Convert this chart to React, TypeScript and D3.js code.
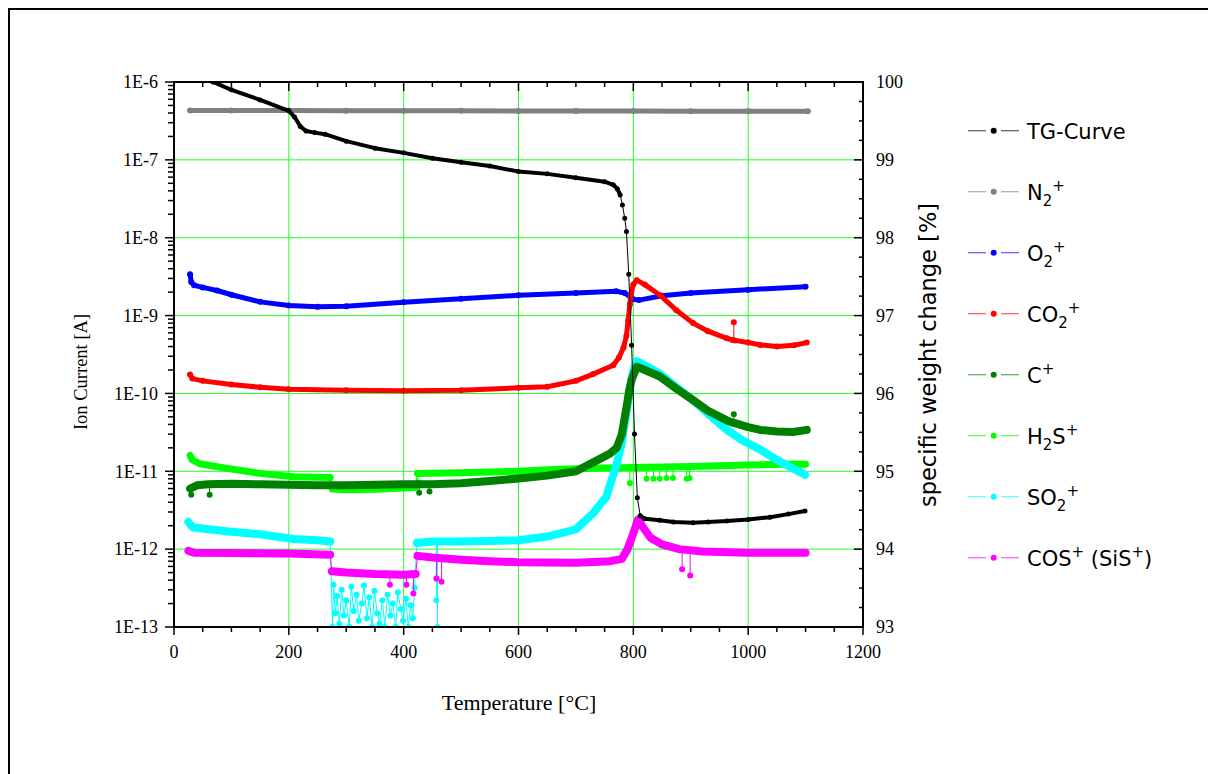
import React from 'react';
import * as d3 from 'd3';

type P = [number, number];
type S = [number, number, number]; // T, base, tip

// temperature [°C] vs specific weight change [%]
const tgCurve: P[] = [
  [28, 100.35], [50, 100.15], [68, 100], [100, 99.9], [150, 99.77], [200, 99.63], [210, 99.55],
  [220, 99.43], [230, 99.37], [245, 99.35], [263, 99.33], [300, 99.24], [350, 99.15], [400, 99.09],
  [450, 99.02], [500, 98.97], [550, 98.92], [600, 98.85], [650, 98.82], [700, 98.77], [750, 98.72],
  [765, 98.68], [772, 98.63], [777, 98.55], [781, 98.42], [785, 98.25], [788, 98.08], [792, 97.53],
  [797, 96.62], [802, 95.48], [807, 94.66], [812, 94.43], [820, 94.39], [846, 94.37], [870, 94.35],
  [904, 94.34], [930, 94.35], [963, 94.36], [1000, 94.38], [1038, 94.41], [1070, 94.45], [1099, 94.49],
];

// ion currents [A]
const n2: P[] = [
  [28, 4.3e-7], [100, 4.3e-7], [200, 4.3e-7], [300, 4.28e-7], [400, 4.28e-7], [500, 4.27e-7],
  [600, 4.25e-7], [700, 4.25e-7], [800, 4.24e-7], [900, 4.2e-7], [1000, 4.2e-7], [1104, 4.22e-7],
];

const o2: P[] = [
  [28, 3.4e-9], [30, 2.7e-9], [35, 2.45e-9], [50, 2.3e-9], [75, 2.1e-9], [100, 1.85e-9], [150, 1.5e-9],
  [200, 1.35e-9], [250, 1.3e-9], [300, 1.32e-9], [400, 1.48e-9], [500, 1.65e-9], [600, 1.82e-9],
  [700, 1.95e-9], [770, 2.05e-9], [785, 1.95e-9], [800, 1.62e-9], [810, 1.58e-9], [850, 1.8e-9],
  [900, 1.95e-9], [1000, 2.15e-9], [1100, 2.35e-9],
];

const co2: P[] = [
  [28, 1.75e-10], [32, 1.55e-10], [50, 1.45e-10], [100, 1.3e-10], [150, 1.2e-10], [200, 1.13e-10],
  [300, 1.1e-10], [400, 1.08e-10], [500, 1.1e-10], [600, 1.18e-10], [650, 1.22e-10], [700, 1.45e-10],
  [730, 1.77e-10], [765, 2.3e-10], [775, 2.9e-10], [783, 3.9e-10], [788, 5.5e-10], [791, 8.7e-10],
  [794, 1.4e-9], [796, 1.9e-9], [800, 2.5e-9], [806, 2.85e-9], [820, 2.5e-9], [846, 1.84e-9],
  [875, 1.17e-9], [904, 8.0e-10], [930, 6.3e-10], [963, 5.1e-10], [973, 4.85e-10], [977, 4.8e-10],
  [1000, 4.5e-10], [1021, 4.2e-10], [1050, 4.0e-10], [1080, 4.15e-10], [1102, 4.5e-10],
];
const co2Spikes: S[] = [[975, 4.85e-10, 8.2e-10]];

const cPlus: P[] = [
  [28, 6.0e-12], [40, 6.6e-12], [60, 6.8e-12], [100, 6.9e-12], [150, 6.8e-12], [200, 6.7e-12],
  [250, 6.6e-12], [300, 6.6e-12], [350, 6.7e-12], [400, 6.8e-12], [450, 6.8e-12], [500, 7.0e-12],
  [550, 7.5e-12], [600, 8.1e-12], [650, 8.8e-12], [700, 1.0e-11], [730, 1.3e-11], [760, 1.7e-11],
  [771, 2.0e-11], [780, 3.0e-11], [788, 6.6e-11], [793, 1.1e-10], [797, 1.5e-10], [806, 2.2e-10],
  [820, 2.0e-10], [846, 1.65e-10], [875, 1.15e-10], [904, 8.2e-11], [930, 6.0e-11], [963, 4.5e-11],
  [973, 4.2e-11], [977, 4.15e-11], [1000, 3.7e-11], [1021, 3.4e-11], [1050, 3.25e-11],
  [1078, 3.2e-11], [1102, 3.4e-11],
];
const cSpikes: S[] = [
  [975, 4.2e-11, 5.4e-11], [30, 6.2e-12, 5.0e-12], [62, 6.8e-12, 5.0e-12],
  [427, 6.8e-12, 5.3e-12], [445, 6.8e-12, 5.5e-12],
];

const h2s: P[] = [
  [28, 1.6e-11], [32, 1.4e-11], [45, 1.25e-11], [92, 1.09e-11], [150, 9.4e-12], [208, 8.5e-12],
  [272, 8.3e-12], [276, 5.9e-12], [300, 5.8e-12], [350, 5.9e-12], [400, 6.1e-12], [420, 6.2e-12],
  [424, 9.4e-12], [500, 9.6e-12], [600, 1.0e-11], [672, 1.06e-11], [750, 1.1e-11], [800, 1.12e-11],
  [900, 1.15e-11], [1000, 1.2e-11], [1078, 1.24e-11], [1100, 1.23e-11],
];
const h2sSpikes: S[] = [
  [794, 1.1e-11, 7.0e-12], [823, 1.12e-11, 8.0e-12], [835, 1.12e-11, 8.0e-12], [846, 1.12e-11, 8.0e-12],
  [858, 1.12e-11, 8.2e-12], [869, 1.13e-11, 8.2e-12], [893, 1.15e-11, 8.0e-12], [898, 1.15e-11, 8.2e-12],
  [425, 9.4e-12, 7.2e-12],
];

const so2: P[] = [
  [25, 2.25e-12], [30, 2.0e-12], [34, 1.9e-12], [60, 1.8e-12], [92, 1.7e-12], [150, 1.55e-12],
  [208, 1.35e-12], [250, 1.3e-12], [272, 1.25e-12],
  [276, 1.0e-13], [278, 3.5e-13], [281, 1.5e-13], [284, 2.5e-13], [288, 1.1e-13], [292, 3.0e-13],
  [296, 1.4e-13], [300, 2.2e-13], [305, 1.0e-13], [309, 3.3e-13], [313, 1.6e-13], [318, 2.6e-13],
  [322, 1.2e-13], [327, 2.0e-13], [331, 3.4e-13], [336, 1.3e-13], [340, 2.4e-13], [345, 1.0e-13],
  [349, 2.9e-13], [354, 1.5e-13], [358, 1.1e-13], [363, 2.2e-13], [367, 1.0e-13], [372, 2.6e-13],
  [377, 1.4e-13], [381, 2.0e-13], [386, 1.0e-13], [390, 2.8e-13], [395, 1.7e-13], [399, 1.2e-13],
  [404, 2.3e-13], [408, 1.0e-13], [412, 1.9e-13], [416, 1.3e-13], [419, 3.2e-13],
  [423, 1.2e-12], [450, 1.25e-12], [500, 1.25e-12], [600, 1.3e-12], [650, 1.45e-12], [700, 1.8e-12],
  [730, 2.9e-12], [753, 4.7e-12], [771, 1.24e-11], [780, 2.3e-11], [783, 3.4e-11], [790, 7e-11],
  [794, 1.2e-10], [800, 2.0e-10], [806, 2.6e-10], [820, 2.3e-10], [846, 1.8e-10], [875, 1.2e-10],
  [904, 8.2e-11], [930, 5.5e-11], [963, 3.4e-11], [990, 2.5e-11], [1021, 1.9e-11], [1050, 1.4e-11],
  [1078, 1.09e-11], [1099, 9.0e-12],
];
const so2Spikes: S[] = [[457, 1.25e-12, 2.2e-13], [459, 1.25e-12, 1.0e-13]];

const cos: P[] = [
  [25, 9.5e-13], [35, 9.0e-13], [100, 8.9e-13], [200, 8.8e-13], [272, 8.5e-13], [275, 5.2e-13],
  [300, 5.0e-13], [350, 4.8e-13], [400, 4.7e-13], [421, 4.8e-13], [424, 8.2e-13], [450, 7.8e-13],
  [500, 7.3e-13], [550, 7.0e-13], [600, 6.8e-13], [700, 6.7e-13], [760, 7.0e-13], [780, 7.5e-13],
  [790, 1.0e-12], [800, 1.6e-12], [808, 2.4e-12], [815, 2.0e-12], [830, 1.4e-12], [850, 1.15e-12],
  [880, 1.0e-12], [920, 9.3e-13], [1000, 9.0e-13], [1100, 9.0e-13],
];
const cosSpikes: S[] = [
  [457, 7.8e-13, 4.2e-13], [466, 7.7e-13, 3.8e-13], [885, 9.7e-13, 5.5e-13], [899, 9.5e-13, 4.6e-13],
  [376, 4.8e-13, 3.5e-13], [405, 4.7e-13, 3.5e-13], [417, 4.8e-13, 2.7e-13],
];

const xTickLabels = [0, 200, 400, 600, 800, 1000, 1200];
const leftTickLabels = ['1E-13', '1E-12', '1E-11', '1E-10', '1E-9', '1E-8', '1E-7', '1E-6'];
const rightTickLabels = [93, 94, 95, 96, 97, 98, 99, 100];

// legend text parts: [text, kind]
type Part = [string, '' | 'sub' | 'sup'];
const legendLabels: Part[][] = [
  [['TG-Curve', '']],
  [['N', ''], ['2', 'sub'], ['+', 'sup']],
  [['O', ''], ['2', 'sub'], ['+', 'sup']],
  [['CO', ''], ['2', 'sub'], ['+', 'sup']],
  [['C', ''], ['+', 'sup']],
  [['H', ''], ['2', 'sub'], ['S', ''], ['+', 'sup']],
  [['SO', ''], ['2', 'sub'], ['+', 'sup']],
  [['COS', ''], ['+', 'sup'], [' (SiS', ''], ['+', 'sup'], [')', '']],
];
const colors = ['#000000', '#808080', '#0000ff', '#ff0000', '#008000', '#00ff00', '#00ffff', '#ff00ff'];

const X0 = 174, X1 = 863, Y0 = 82, Y1 = 627;
const x = d3.scaleLinear().domain([0, 1200]).range([X0, X1]);
const yL = d3.scaleLog().domain([1e-13, 1e-6]).range([Y1, Y0]);
const yR = d3.scaleLinear().domain([93, 100]).range([Y1, Y0]);

const serif = '"Liberation Serif", "Times New Roman", serif';
const sans = '"DejaVu Sans", Verdana, sans-serif';

interface Series {
  pts: P[];
  spikes: S[];
  bands: [number, number][];
  bandW: number;
  r: number;
  color: string;
  right?: boolean;
}

const series: Series[] = [
  { pts: n2, spikes: [], bands: [[0, 1200]], bandW: 5, r: 3, color: colors[1] },
  { pts: o2, spikes: [], bands: [[0, 1200]], bandW: 5, r: 3, color: colors[2] },
  { pts: co2, spikes: co2Spikes, bands: [[0, 1200]], bandW: 5, r: 3, color: colors[3] },
  { pts: h2s, spikes: h2sSpikes, bands: [[0, 273], [275, 421], [423, 1200]], bandW: 7, r: 3, color: colors[5] },
  { pts: so2, spikes: so2Spikes, bands: [[0, 273], [422, 1200]], bandW: 8, r: 3, color: colors[6] },
  { pts: cos, spikes: cosSpikes, bands: [[0, 273], [274, 422], [423, 1200]], bandW: 8, r: 3, color: colors[7] },
  { pts: cPlus, spikes: cSpikes, bands: [[0, 1200]], bandW: 8, r: 3, color: colors[4] },
  { pts: tgCurve, spikes: [], bands: [[0, 778], [811, 1200]], bandW: 4, r: 2.5, color: colors[0], right: true },
];

function Label({ parts, x0, y0 }: { parts: Part[]; x0: number; y0: number }) {
  let cur = 0;
  const off = { '': 0, sub: 6, sup: -9 };
  return (
    <text x={x0} y={y0} fontFamily={sans} fontSize={21} fill="#000">
      {parts.map(([t, k], i) => {
        const dy = off[k] - cur;
        cur = off[k];
        return (
          <tspan key={i} dy={dy} fontSize={k ? 15 : 21}>{t}</tspan>
        );
      })}
    </text>
  );
}

export default function App() {
  const xMinor = d3.range(0, 1201, 50);
  const decades = d3.range(-13, -5).map((e) => Math.pow(10, e));
  const logMinor: number[] = [];
  decades.slice(0, -1).forEach((d) => {
    for (let k = 2; k <= 9; k++) logMinor.push(d * k);
  });
  const rMinor = d3.range(93, 100.01, 0.25);

  return (
    <svg width={1208} height={774} style={{ position: 'absolute', left: 0, top: 0 }}>
      <rect x={9} y={9} width={1400} height={1000} fill="none" stroke="#000" strokeWidth={2} />
      <defs>
        <clipPath id="plot">
          <rect x={X0} y={Y0} width={X1 - X0} height={Y1 - Y0} />
        </clipPath>
      </defs>

      {/* grid */}
      <g stroke="#22ff22" strokeWidth={1}>
        {[200, 400, 600, 800, 1000].map((v) => (
          <line key={v} x1={x(v)} x2={x(v)} y1={Y0} y2={Y1} />
        ))}
        {decades.slice(1, -1).map((v) => (
          <line key={v} x1={X0} x2={X1} y1={yL(v)} y2={yL(v)} />
        ))}
      </g>

      {/* data */}
      <g clipPath="url(#plot)">
        {series.map((s, si) => {
          const yy = s.right ? yR : yL;
          const line = d3.line<P>().x((d) => x(d[0])).y((d) => yy(d[1]));
          return (
            <g key={si}>
              <path d={line(s.pts) || ''} fill="none" stroke={s.color} strokeWidth={1} />
              {s.bands.map(([a, b], bi) => (
                <path
                  key={bi}
                  d={line(s.pts.filter((d) => d[0] >= a && d[0] <= b)) || ''}
                  fill="none"
                  stroke={s.color}
                  strokeWidth={s.bandW}
                  strokeLinejoin="round"
                  strokeLinecap="round"
                />
              ))}
              {s.spikes.map(([t, b, tip], k) => (
                <g key={'s' + k}>
                  <line x1={x(t)} x2={x(t)} y1={yy(b)} y2={yy(tip)} stroke={s.color} strokeWidth={1} />
                  <circle cx={x(t)} cy={yy(tip)} r={s.r} fill={s.color} />
                </g>
              ))}
              {s.pts.map((d, k) => (
                <circle key={k} cx={x(d[0])} cy={yy(d[1])} r={s.r} fill={s.color} />
              ))}
            </g>
          );
        })}
      </g>

      {/* axes frame */}
      <g stroke="#000" strokeWidth={2} fill="none">
        <line x1={X0} x2={X1} y1={Y1} y2={Y1} />
        <line x1={X0} x2={X1} y1={Y0} y2={Y0} />
        <line x1={X0} x2={X0} y1={Y0 - 1} y2={Y1 + 1} />
        <line x1={X1} x2={X1} y1={Y0 - 1} y2={Y1 + 1} />
      </g>
      <g stroke="#000" strokeWidth={1.5}>
        {xMinor.map((v) => {
          const major = v % 200 === 0;
          return (
            <g key={v}>
              <line x1={x(v)} x2={x(v)} y1={Y1} y2={Y1 + (major ? 8 : 5)} />
              <line x1={x(v)} x2={x(v)} y1={Y0} y2={Y0 + (major ? 9 : 5)} />
            </g>
          );
        })}
        {decades.map((v) => (
          <line key={v} x1={X0 - 9} x2={X0} y1={yL(v)} y2={yL(v)} />
        ))}
        {logMinor.map((v) => (
          <line key={v} x1={X0 - 6} x2={X0} y1={yL(v)} y2={yL(v)} />
        ))}
        {rMinor.map((v) => {
          const major = Math.abs(v - Math.round(v)) < 1e-6;
          return <line key={v} x1={X1 - (major ? 9 : 4)} x2={X1} y1={yR(v)} y2={yR(v)} />;
        })}
      </g>

      {/* tick labels */}
      <g fontFamily={serif} fontSize={18} fill="#000">
        {xTickLabels.map((v) => (
          <text key={v} x={x(v)} y={658} textAnchor="middle">{v}</text>
        ))}
        {leftTickLabels.map((t, i) => (
          <text key={t} x={158} y={yL(decades[i])} dy="0.35em" textAnchor="end">{t}</text>
        ))}
        {rightTickLabels.map((v) => (
          <text key={v} x={876} y={yR(v)} dy="0.35em">{v}</text>
        ))}
      </g>

      {/* axis titles */}
      <text x={519} y={710} textAnchor="middle" fontFamily={serif} fontSize={22}>Temperature [°C]</text>
      <text transform="translate(87,372) rotate(-90)" textAnchor="middle" fontFamily={serif} fontSize={18.5}>
        Ion Current [A]
      </text>
      <text transform="translate(936,355) rotate(-90)" textAnchor="middle" fontFamily={sans} fontSize={22.5}>
        specific weight change [%]
      </text>

      {/* legend */}
      {legendLabels.map((parts, i) => {
        const ly = 130.7 + i * 61;
        return (
          <g key={i}>
            <line x1={968} x2={986} y1={ly} y2={ly} stroke={colors[i]} strokeOpacity={0.65} strokeWidth={1.2} />
            <line x1={1001} x2={1019} y1={ly} y2={ly} stroke={colors[i]} strokeOpacity={0.65} strokeWidth={1.2} />
            <circle cx={993.7} cy={ly} r={3} fill={colors[i]} />
            <Label parts={parts} x0={1027} y0={ly + 8} />
          </g>
        );
      })}
    </svg>
  );
}
